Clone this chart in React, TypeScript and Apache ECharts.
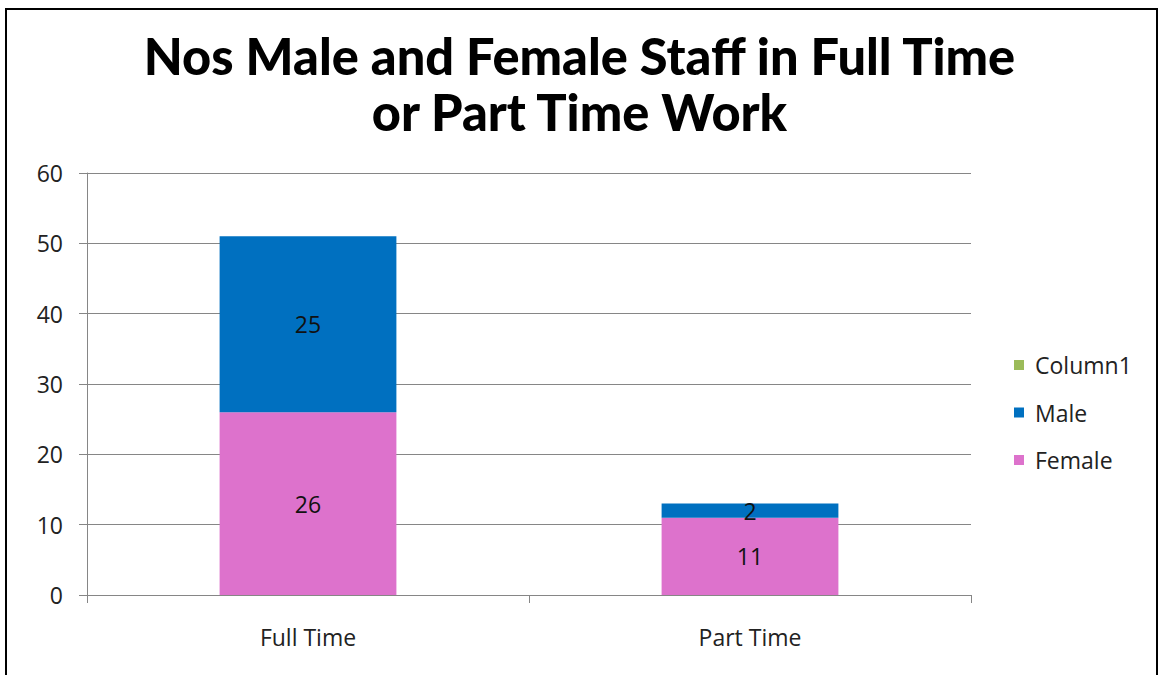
import React, { useEffect, useRef } from "react";
import * as echarts from "echarts";

const categories = ["Full Time", "Part Time"];
const column1Values: (number | null)[] = [null, null];
const maleValues = [25, 2];
const femaleValues = [26, 11];
const titleLines = ["Nos Male and Female Staff in Full Time", "or Part Time Work"];

export default function App() {
  const ref = useRef<HTMLDivElement>(null);
  useEffect(() => {
    document.body.style.margin = "0";
    const chart = echarts.init(ref.current!, undefined, { renderer: "svg" });
    const labelFont = "'Open Sans', 'Liberation Sans', sans-serif";
    const fs = 23;
    chart.setOption({
      animation: false,
      backgroundColor: "#ffffff",
      title: {
        text: titleLines.join("\n"),
        left: "center",
        top: 27,
        padding: 0,
        textStyle: {
          fontFamily: "Lato, 'Open Sans', sans-serif",
          fontWeight: 900,
          fontSize: 50.5,
          lineHeight: 56,
          color: "#000000",
        },
      },
      graphic: [
        {
          type: "rect",
          shape: { x: 6, y: 9, width: 1151, height: 700 },
          style: { fill: "none", stroke: "#000000", lineWidth: 2 },
          silent: true,
        },
      ],
      legend: {
        orient: "vertical",
        left: 1014,
        top: 353.5,
        padding: 0,
        itemWidth: 10,
        itemHeight: 10,
        itemGap: 24.5,
        icon: "rect",
        data: ["Column1", "Male", "Female"],
        textStyle: { fontFamily: labelFont, fontSize: fs, color: "#222222", padding: [0, 0, 0, 6] },
      },
      grid: { left: 87, right: 188, top: 173, bottom: 80, containLabel: false },
      xAxis: {
        type: "category",
        data: categories,
        axisLine: { lineStyle: { color: "#868686", width: 1 } },
        axisTick: { show: true, alignWithLabel: false, length: 8, lineStyle: { color: "#868686" } },
        axisLabel: { fontFamily: labelFont, fontSize: fs, color: "#222222", margin: 30 },
      },
      yAxis: {
        type: "value",
        min: 0,
        max: 60,
        interval: 10,
        axisLine: { show: true, lineStyle: { color: "#868686", width: 1 } },
        axisTick: { show: true, length: 8, lineStyle: { color: "#868686" } },
        splitLine: { lineStyle: { color: "#868686", width: 1 } },
        axisLabel: { fontFamily: labelFont, fontSize: fs, color: "#222222", margin: 24 },
      },
      series: [
        {
          name: "Female",
          type: "bar",
          stack: "total",
          barWidth: "40%",
          data: femaleValues,
          itemStyle: { color: "#DD72CC" },
          label: { show: true, position: "inside", color: "#111111", fontFamily: labelFont, fontSize: fs },
        },
        {
          name: "Male",
          type: "bar",
          stack: "total",
          barWidth: "40%",
          data: maleValues,
          itemStyle: { color: "#0070C0" },
          label: { show: true, position: "inside", color: "#111111", fontFamily: labelFont, fontSize: fs },
        },
        {
          name: "Column1",
          type: "bar",
          stack: "total",
          barWidth: "40%",
          data: column1Values,
          itemStyle: { color: "#9BBB59" },
        },
      ],
    });
    return () => chart.dispose();
  }, []);
  return (
    <div
      ref={ref}
      style={{ position: "fixed", left: 0, top: 0, width: 1159, height: 675 }}
    />
  );
}
